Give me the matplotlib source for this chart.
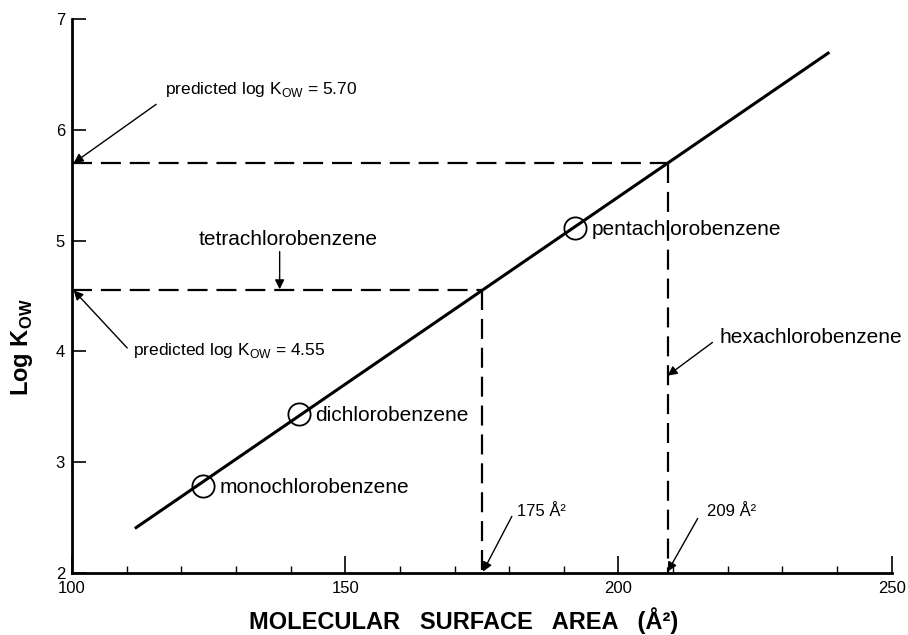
import numpy as np
import matplotlib.pyplot as plt
from matplotlib.ticker import MultipleLocator

plt.rcParams['font.family'] = ['Liberation Sans', 'DejaVu Sans']
plt.rcParams['mathtext.fontset'] = 'custom'
plt.rcParams['mathtext.rm'] = 'Liberation Sans'
plt.rcParams['mathtext.bf'] = 'Liberation Sans:bold'

# regression line ends
line_x = [111.5, 238.6]
line_y = [2.40, 6.70]

# measured compounds
compounds = ['monochlorobenzene', 'dichlorobenzene', 'pentachlorobenzene']
area = [124.0, 141.5, 192.0]
logkow = [2.78, 3.43, 5.11]

# predicted compounds (tetra, hexa)
pred_area = [175, 209]
pred_logkow = [4.55, 5.70]

fig = plt.figure(figsize=(9.08, 6.35), dpi=100)
ax = fig.add_axes([0.0793, 0.098, 0.9027, 0.872])

ax.plot(line_x, line_y, color='black', lw=2.2, solid_capstyle='butt')
ax.plot(area, logkow, 'o', ms=16, mfc='none', mec='black', mew=1.3)
for name, xv, yv in zip(compounds, area, logkow):
    ax.annotate(name, (xv, yv), xytext=(12, -1), textcoords='offset points',
                ha='left', va='center', fontsize=15)

# dashed guide lines
for xv, yv in zip(pred_area, pred_logkow):
    ax.plot([100, xv], [yv, yv], color='black', lw=1.6, ls=(0, (9, 4)))
    ax.plot([xv, xv], [yv, 2], color='black', lw=1.6, ls=(0, (9, 4)))

arrow = dict(arrowstyle='-|>', color='black', lw=1.0, mutation_scale=14,
             shrinkA=0, shrinkB=0)

def pointer(text, tip, start, tpos, size=12, ha='left'):
    ax.annotate('', xy=tip, xytext=start, arrowprops=arrow)
    ax.text(tpos[0], tpos[1], text, fontsize=size, ha=ha, va='center')

pointer(r'predicted log K$_{\mathrm{OW}}$ = 5.70', (100.3, 5.70), (115.4, 6.23), (117.0, 6.36), 12.5)
pointer(r'predicted log K$_{\mathrm{OW}}$ = 4.55', (100.3, 4.55), (110.1, 4.03), (111.2, 4.01), 12.5)
pointer('tetrachlorobenzene', (138.0, 4.56), (138.0, 4.90), (139.5, 5.01), 15, 'center')
pointer('hexachlorobenzene', (209.0, 3.78), (217.2, 4.08), (218.5, 4.12), 15)
pointer('175 Å²', (175.2, 2.01), (180.5, 2.51), (181.4, 2.55), 12)
pointer('209 Å²', (209.0, 2.01), (214.5, 2.49), (216.2, 2.55), 12)

ax.set_xlim(100, 250)
ax.set_ylim(2, 7)
ax.xaxis.set_major_locator(MultipleLocator(50))
ax.xaxis.set_minor_locator(MultipleLocator(10))
ax.yaxis.set_major_locator(MultipleLocator(1))
ax.tick_params(axis='x', which='major', direction='in', length=12, width=1.2, labelsize=12, pad=6)
ax.tick_params(axis='x', which='minor', direction='in', length=5, width=1.0)
ax.tick_params(axis='y', direction='in', length=10, width=1.2, labelsize=12, pad=5)
for s in ['top', 'right']:
    ax.spines[s].set_visible(False)
for s in ['left', 'bottom']:
    ax.spines[s].set_linewidth(2)

ax.set_ylabel(r'Log K$_{\mathbf{OW}}$', fontsize=17, fontweight='bold')
ax.yaxis.set_label_coords(-0.045, 0.408)
ax.set_xlabel('MOLECULAR   SURFACE   AREA   (Å²)', fontsize=17, fontweight='bold')
ax.xaxis.set_label_coords(0.478, -0.062)

fig.savefig('out.png', dpi=100)
